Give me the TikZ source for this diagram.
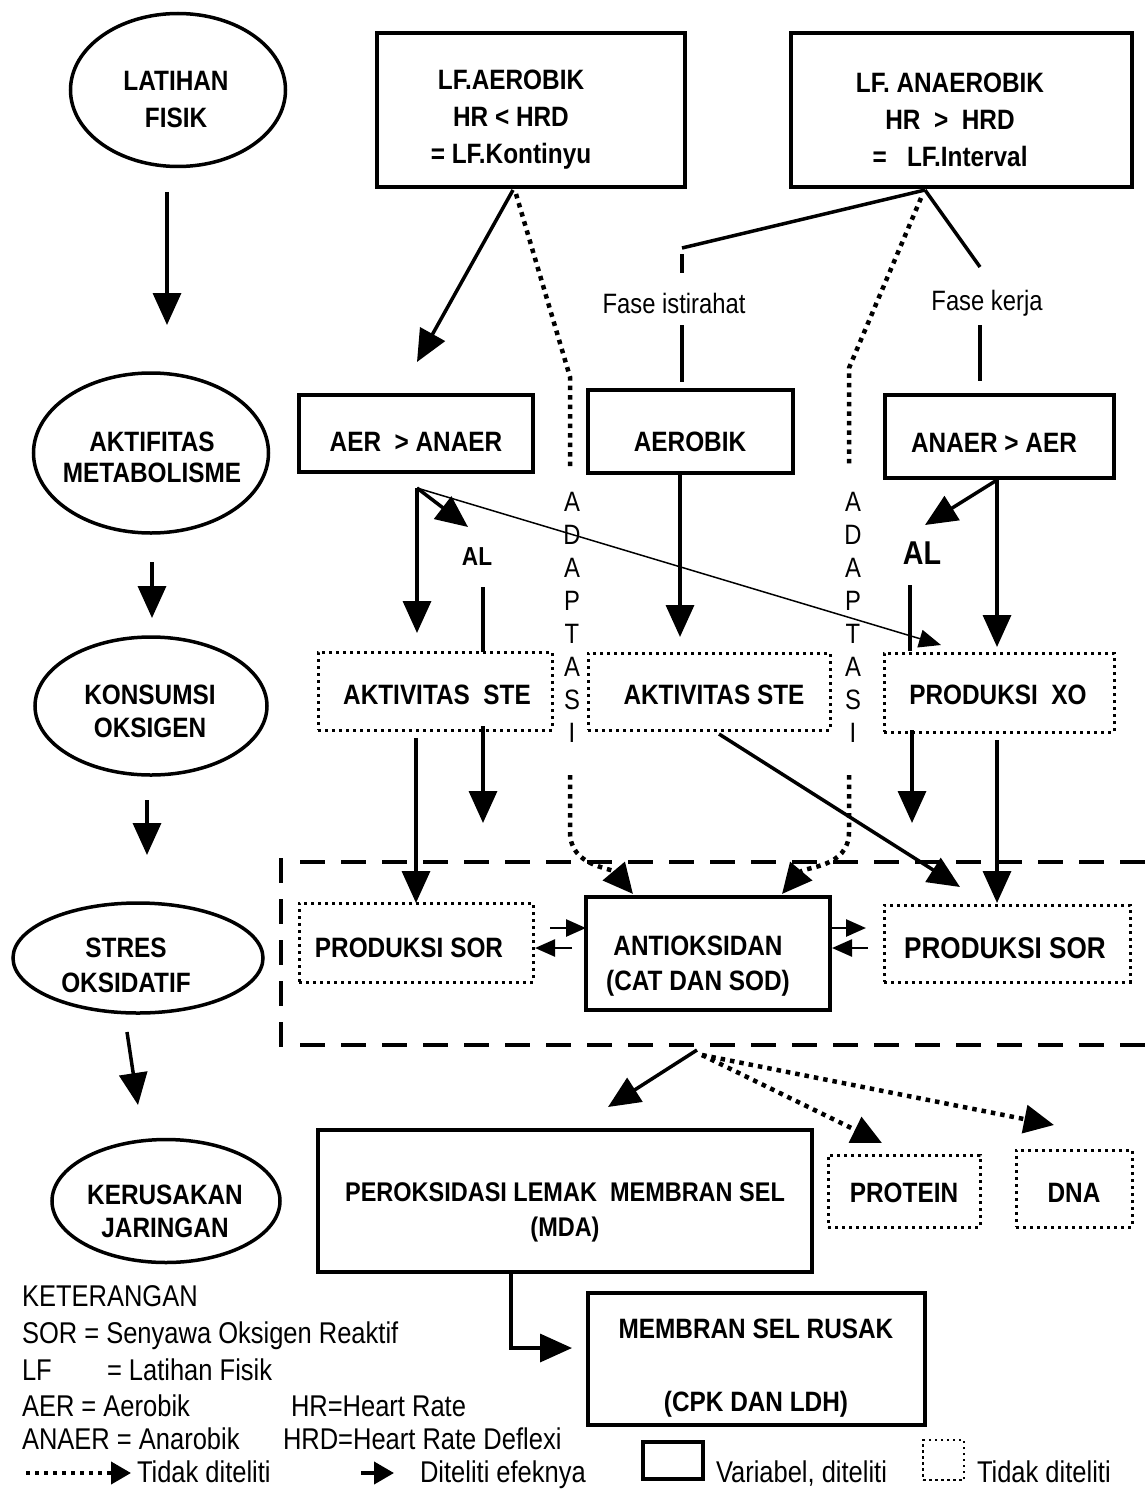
\documentclass[tikz,border=0pt]{standalone}
\usepackage{fontspec}
\setmainfont{Liberation Sans}[FakeStretch=0.87]
\newfontfamily\legfont{Liberation Sans}[FakeStretch=0.85]
\usetikzlibrary{shapes.geometric,arrows.meta}
\begin{document}
\begin{tikzpicture}[x=1pt,y=-1pt,
  every node/.style={inner sep=0pt,outer sep=0pt},
  bt/.style={font=\bfseries\fontsize{28}{37}\selectfont,align=center},
  rt/.style={font=\legfont\fontsize{28}{34}\selectfont,align=center},
  lt/.style={font=\legfont\fontsize{30}{36}\selectfont,anchor=base west},
  vbox/.style={draw,line width=4pt,rectangle},
  nbox/.style={draw,line width=3pt,dash pattern=on 3pt off 4pt,rectangle},
  ell/.style={draw,ellipse,line width=3.5pt},
  ln/.style={line width=3.5pt},
  arr/.style={line width=3.5pt,-{Triangle[length=32pt,width=28pt]}},
  sarr/.style={line width=2.5pt,-{Triangle[length=20pt,width=17pt]}},
  thinarr/.style={line width=1.5pt,-{Triangle[length=22pt,width=18pt]}},
  dotl/.style={line width=4.5pt,dash pattern=on 4.5pt off 5pt},
  darr/.style={dotl,-{Triangle[length=30pt,width=28pt]}},
  dashl/.style={line width=4pt,dash pattern=on 25pt off 16pt},
]
\clip (0,0) rectangle (1147,1490);
\fill[white] (0,0) rectangle (1147,1490);

% ---------- left column ellipses ----------
\node[ell,minimum width=215,minimum height=153] (e1) at (178,90) {};
\node[bt] (te1) at (176,100) {LATIHAN\\FISIK};
\node[ell,minimum width=235,minimum height=160] (e2) at (151,453) {};
\node[bt,font=\bfseries\fontsize{28}{31}\selectfont] (te2) at (152,457) {AKTIFITAS\\METABOLISME};
\node[ell,minimum width=232,minimum height=138] (e3) at (151,706) {};
\node[bt,font=\bfseries\fontsize{28}{33}\selectfont] (te3) at (150,711) {KONSUMSI\\OKSIGEN};
\node[ell,minimum width=250,minimum height=110] (e4) at (138,958) {};
\node[bt,font=\bfseries\fontsize{28}{35}\selectfont] (te4) at (126,965) {STRES\\OKSIDATIF};
\node[ell,minimum width=228,minimum height=123] (e5) at (166,1201) {};
\node[bt,font=\bfseries\fontsize{28}{33}\selectfont] (te5) at (165,1211) {KERUSAKAN\\JARINGAN};

\coordinate (l1a) at (167,192);  \coordinate (l1b) at (167,325);
\coordinate (l2a) at (152,562);  \coordinate (l2b) at (152,618);
\coordinate (l3a) at (147,800);  \coordinate (l3b) at (147,855);
\coordinate (l4a) at (127,1032); \coordinate (l4b) at (138,1105);
\draw[arr] (l1a) -- (l1b);
\draw[arr] (l2a) -- (l2b);
\draw[arr] (l3a) -- (l3b);
\draw[arr] (l4a) -- (l4b);

% ---------- top boxes ----------
\node[vbox,minimum width=308,minimum height=154] (bA) at (531,110) {};
\node[bt] (tA) at (511,120) {LF.AEROBIK\\HR < HRD\\= LF.Kontinyu};
\node[vbox,minimum width=341,minimum height=154] (bB) at (961.5,110) {};
\node[bt] (tB) at (950,120) {LF. ANAEROBIK\\HR~~>~~HRD\\=~~~LF.Interval};

% ---------- metabolism row ----------
\node[vbox,minimum width=234,minimum height=77] (bC) at (416,433.5) {};
\node[bt] (tC) at (416,442) {AER~~> ANAER};
\node[vbox,minimum width=205,minimum height=83] (bD) at (690.5,431.5) {};
\node[bt] (tD) at (690,442) {AEROBIK};
\node[vbox,minimum width=229,minimum height=83] (bE) at (999.5,436.5) {};
\node[bt] (tE) at (994,443) {ANAER > AER};

% ---------- STE / XO row ----------
\node[nbox,minimum width=234,minimum height=78] (bF) at (435,691) {};
\node[bt] (tF) at (437,695) {AKTIVITAS~ STE};
\node[nbox,minimum width=242,minimum height=77] (bG) at (709,691.5) {};
\node[bt] (tG) at (714,695) {AKTIVITAS STE};
\node[nbox,minimum width=230,minimum height=79] (bH) at (999,692.5) {};
\node[bt] (tH) at (998,695) {PRODUKSI~ XO};

% ---------- SOR / antioxidant row ----------
\node[nbox,minimum width=234,minimum height=79] (bI) at (416,942.5) {};
\node[bt] (tI) at (409,948) {PRODUKSI SOR};
\node[vbox,minimum width=244,minimum height=113] (bJ) at (708,953.5) {};
\node[bt,font=\bfseries\fontsize{28}{35}\selectfont] (tJ) at (698,966) {ANTIOKSIDAN\\(CAT DAN SOD)};
\node[nbox,minimum width=246,minimum height=77] (bK) at (1007,943.5) {};
\node[bt,font=\bfseries\fontsize{30}{36}\selectfont] (tK) at (1005,948) {PRODUKSI SOR};

% dashed frame
\draw[dashl] (281,858) -- (281,1047);
\draw[dashl] (300,862) -- (1160,862);
\draw[dashl] (300,1045) -- (1160,1045);

% ---------- damage row ----------
\node[vbox,minimum width=494,minimum height=142] (bL) at (565,1201) {};
\node[bt,font=\bfseries\fontsize{27}{35}\selectfont] (tL) at (565,1212) {PEROKSIDASI LEMAK~ MEMBRAN SEL\\(MDA)};
\node[nbox,minimum width=152,minimum height=72] (bM) at (904,1191) {};
\node[bt] (tM) at (904,1193) {PROTEIN};
\node[nbox,minimum width=116,minimum height=77] (bN) at (1074,1188.5) {};
\node[bt] (tN) at (1074,1193) {DNA};
\node[vbox,minimum width=337,minimum height=132] (bO) at (756.5,1359) {};
\node[bt] (tO) at (756,1368) {MEMBRAN SEL RUSAK\\[36pt](CPK DAN LDH)};

% ---------- labels ----------
\node[rt] (fi) at (674,303) {Fase istirahat};
\node[rt] (fk) at (987,303) {Fase kerja};
\node[bt,font=\bfseries\fontsize{26}{30}\selectfont] (al1) at (477,557) {AL};
\node[bt,font=\bfseries\fontsize{33}{36}\selectfont] (al2) at (922,553) {AL};
\foreach \ch [count=\i] in {A,D,A,P,T,A,S,I}{
  \pgfmathsetmacro{\yy}{469+33*\i}
  \node[rt] (adL\i) at (572,\yy) {\ch};
  \node[rt] (adR\i) at (853,\yy) {\ch};
}

% ---------- connectors from top boxes ----------
\coordinate (a1) at (513,190); \coordinate (a1t) at (417,362);
\draw[arr] (a1) -- (a1t);
\coordinate (d1) at (516,194); \coordinate (d1b) at (570,377); \coordinate (d1c) at (570,468);
\draw[dotl] (d1) -- (d1b) -- (d1c);
\coordinate (d1d) at (570,775); \coordinate (d1e) at (570,832); \coordinate (d1t) at (633,894);
\draw[darr] (d1d) -- (d1e) to[out=-90,in=130] (d1t);

\coordinate (b1) at (925,190);
\coordinate (b1l) at (682,248); \coordinate (b1la) at (682,254); \coordinate (b1lb) at (682,273);
\coordinate (b1lc) at (682,325); \coordinate (b1ld) at (682,382);
\coordinate (b1r) at (980,267); \coordinate (b1rc) at (980,325); \coordinate (b1rd) at (980,381);
\draw[ln] (b1) -- (b1l);
\draw[ln] (b1la) -- (b1lb);
\draw[ln] (b1lc) -- (b1ld);
\draw[ln] (b1) -- (b1r);
\draw[ln] (b1rc) -- (b1rd);
\coordinate (d2) at (921,198); \coordinate (d2b) at (849,368); \coordinate (d2c) at (849,468);
\draw[dotl] (d2) -- (d2b) -- (d2c);
\coordinate (d2d) at (849,775); \coordinate (d2e) at (849,832); \coordinate (d2t) at (782,894);
\draw[darr] (d2d) -- (d2e) to[out=-90,in=50] (d2t);

% ---------- metabolism connectors ----------
\coordinate (jC) at (417,488);
\coordinate (jCd) at (417,633); \coordinate (jCal) at (468,527); \coordinate (jCxo) at (941,645);
\draw[arr] (jC) -- (jCd);
\draw[arr] (jC) -- (jCal);
\draw[thinarr] (jC) -- (jCxo);
\coordinate (al1a) at (483,587); \coordinate (al1b) at (483,652);
\draw[ln] (al1a) -- (al1b);
\coordinate (f1) at (416,738); \coordinate (f1t) at (416,903);
\draw[arr] (f1) -- (f1t);
\coordinate (f2) at (483,726); \coordinate (f2t) at (483,823);
\draw[arr] (f2) -- (f2t);
\coordinate (g0) at (680,473); \coordinate (g0t) at (680,637);
\draw[arr] (g0) -- (g0t);
\coordinate (g1) at (719,734); \coordinate (g1t) at (960,887);
\draw[arr] (g1) -- (g1t);
\coordinate (jE) at (997,480);
\coordinate (jEal) at (925,525); \coordinate (jEd) at (997,647);
\draw[arr] (jE) -- (jEal);
\draw[arr] (jE) -- (jEd);
\coordinate (al2a) at (910,585); \coordinate (al2b) at (910,651);
\draw[ln] (al2a) -- (al2b);
\coordinate (h1) at (912,730); \coordinate (h1t) at (912,823);
\draw[arr] (h1) -- (h1t);
\coordinate (h2) at (997,740); \coordinate (h2t) at (997,903);
\draw[arr] (h2) -- (h2t);

% double arrows
\coordinate (x1) at (550,928); \coordinate (x1t) at (586,928);
\coordinate (x2) at (572,948); \coordinate (x2t) at (535,948);
\coordinate (x3) at (830,928); \coordinate (x3t) at (866,928);
\coordinate (x4) at (868,948); \coordinate (x4t) at (832,948);
\draw[sarr] (x1) -- (x1t);
\draw[sarr] (x2) -- (x2t);
\draw[sarr] (x3) -- (x3t);
\draw[sarr] (x4) -- (x4t);

% below the frame
\coordinate (jL) at (697,1050); \coordinate (jLt) at (608,1107);
\draw[arr] (jL) -- (jLt);
\coordinate (jP) at (702,1055); \coordinate (jPt) at (882,1143); \coordinate (jDt) at (1054,1125);
\draw[darr] (jP) -- (jPt);
\draw[darr] (jP) -- (jDt);
\coordinate (m1) at (511,1274); \coordinate (m2) at (511,1348); \coordinate (m3) at (572,1348);
\draw[arr] (m1) -- (m2) -- (m3);

% ---------- legend ----------
\node[lt] (k0) at (22,1306) {KETERANGAN};
\node[lt] (k1) at (22,1343) {SOR = Senyawa Oksigen Reaktif};
\node[lt] (k2a) at (22,1380) {LF};
\node[lt] (k2b) at (107,1380) {= Latihan Fisik};
\node[lt] (k3a) at (22,1416) {AER = Aerobik};
\node[lt] (k3b) at (291,1416) {HR=Heart Rate};
\node[lt] (k4a) at (22,1449) {ANAER = Anarobik};
\node[lt] (k4b) at (283,1449) {HRD=Heart Rate Deflexi};
\coordinate (q1) at (26,1473); \coordinate (q1t) at (131,1473);
\draw[line width=4pt,dash pattern=on 4pt off 5pt,-{Triangle[length=20pt,width=22pt]}] (q1) -- (q1t);
\node[lt] (k5) at (137,1482) {Tidak diteliti};
\coordinate (q2) at (361,1473); \coordinate (q2t) at (394,1473);
\draw[line width=4pt,-{Triangle[length=20pt,width=22pt]}] (q2) -- (q2t);
\node[lt] (k6) at (420,1482) {Diteliti efeknya};
\node[vbox,minimum width=60,minimum height=37] (lg1) at (673,1460) {};
\node[lt] (k7) at (716,1482) {Variabel, diteliti};
\node[draw,line width=2.5pt,dash pattern=on 2.5pt off 3.5pt,minimum width=41,minimum height=40] (lg2) at (943.5,1460) {};
\node[lt] (k8) at (977,1482) {Tidak diteliti};
\end{tikzpicture}
\end{document}
